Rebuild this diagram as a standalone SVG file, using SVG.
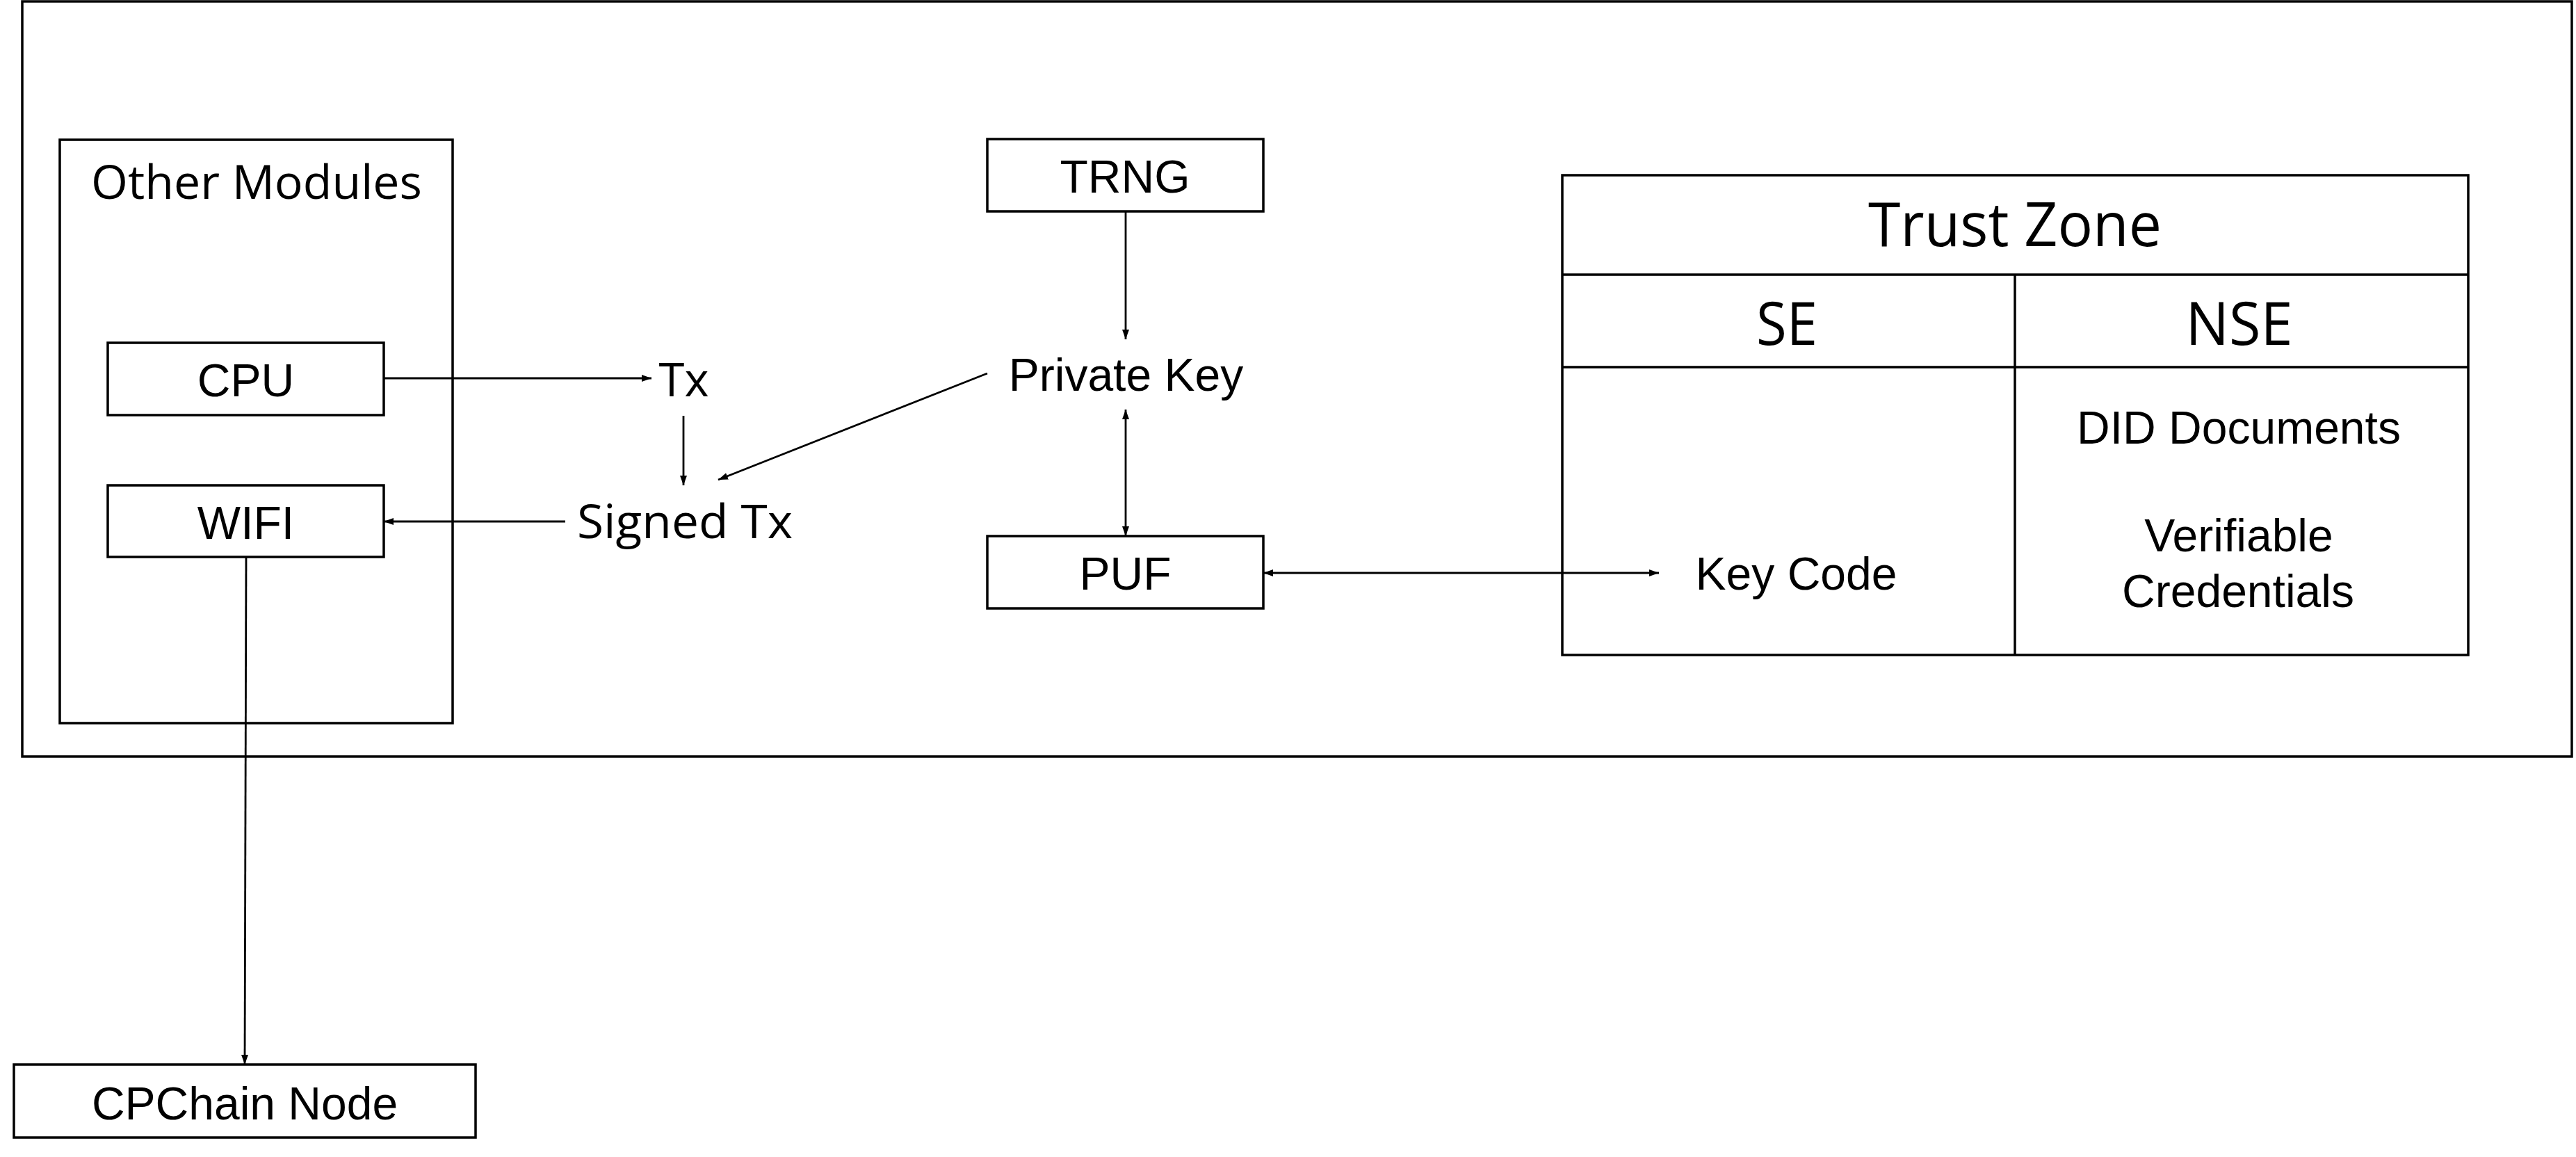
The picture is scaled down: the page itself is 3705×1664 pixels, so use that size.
<svg xmlns="http://www.w3.org/2000/svg" width="3705" height="1664" viewBox="0 0 3705 1664">
<defs>
<style>
.box{fill:none;stroke:#000;stroke-width:3.5}
.con{fill:none;stroke:#000;stroke-width:2.8}
.a{font-family:"Liberation Sans",Arial,sans-serif;font-size:66px;fill:#000;text-anchor:middle}
.s{font-family:"Open Sans","Noto Sans",sans-serif;fill:#000;text-anchor:middle}
</style>
<marker id="ah" viewBox="0 0 14 10" refX="14" refY="5" markerWidth="14" markerHeight="10" markerUnits="userSpaceOnUse" orient="auto-start-reverse">
<path d="M0,0 L14,5 L0,10 Z" fill="#000"/>
</marker>
</defs>
<rect width="3705" height="1664" fill="#fff"/>
<g id="outer"><rect class="box" x="32" y="2" width="3667" height="1086"/></g>
<g id="other-modules">
<rect class="box" x="86" y="201" width="565" height="839"/>
<text class="s" x="369" y="286" font-size="67" textLength="476" lengthAdjust="spacingAndGlyphs">Other Modules</text>
</g>
<g id="cpu"><rect class="box" x="155" y="493" width="397" height="104"/><text class="a" x="353.5" y="570">CPU</text></g>
<g id="wifi"><rect class="box" x="155" y="698" width="397" height="103"/><text class="a" x="353.5" y="775">WIFI</text></g>
<g id="tx"><text class="s" x="983.5" y="570" font-size="68" textLength="72" lengthAdjust="spacingAndGlyphs">Tx</text></g>
<g id="signed-tx"><text class="s" x="985" y="774" font-size="68" textLength="310" lengthAdjust="spacingAndGlyphs">Signed Tx</text></g>
<g id="trng"><rect class="box" x="1420" y="200" width="397" height="104"/><text class="a" x="1618" y="276.5">TRNG</text></g>
<g id="private-key"><text class="a" x="1619.5" y="562">Private Key</text></g>
<g id="puf"><rect class="box" x="1420" y="771" width="397" height="104"/><text class="a" x="1618.5" y="848">PUF</text></g>
<g id="trust-zone">
<rect class="box" x="2247" y="252" width="1303" height="690"/>
<line class="box" x1="2247" y1="395" x2="3550" y2="395"/>
<line class="box" x1="2247" y1="528" x2="3550" y2="528"/>
<line class="box" x1="2898" y1="395" x2="2898" y2="942"/>
<text class="s" x="2898" y="354" font-size="87" textLength="422" lengthAdjust="spacingAndGlyphs">Trust Zone</text>
<text class="s" x="2570" y="496" font-size="86" textLength="88" lengthAdjust="spacingAndGlyphs">SE</text>
<text class="s" x="3220.5" y="496" font-size="86" textLength="154" lengthAdjust="spacingAndGlyphs">NSE</text>
</g>
<g id="key-code"><text class="a" x="2583.5" y="847.5">Key Code</text></g>
<g id="did-documents"><text class="a" x="3220" y="638">DID Documents</text></g>
<g id="verifiable-credentials"><text class="a" x="3220" y="793">Verifiable</text><text class="a" x="3219" y="873">Credentials</text></g>
<g id="cpchain-node"><rect class="box" x="20" y="1531" width="664" height="105"/><text class="a" x="352" y="1610">CPChain Node</text></g>
<g id="connectors">
<line class="con" x1="552" y1="544" x2="937" y2="544" marker-end="url(#ah)"/>
<line class="con" x1="983" y1="598" x2="983" y2="698" marker-end="url(#ah)"/>
<line class="con" x1="813" y1="750" x2="552" y2="750" marker-end="url(#ah)"/>
<line class="con" x1="1420" y1="537" x2="1033" y2="690" marker-end="url(#ah)"/>
<line class="con" x1="1619" y1="304" x2="1619" y2="488" marker-end="url(#ah)"/>
<line class="con" x1="1619" y1="589" x2="1619" y2="771" marker-start="url(#ah)" marker-end="url(#ah)"/>
<line class="con" x1="1817" y1="824" x2="2386" y2="824" marker-start="url(#ah)" marker-end="url(#ah)"/>
<line class="con" x1="354" y1="801" x2="352" y2="1531" marker-end="url(#ah)"/>
</g>
</svg>
